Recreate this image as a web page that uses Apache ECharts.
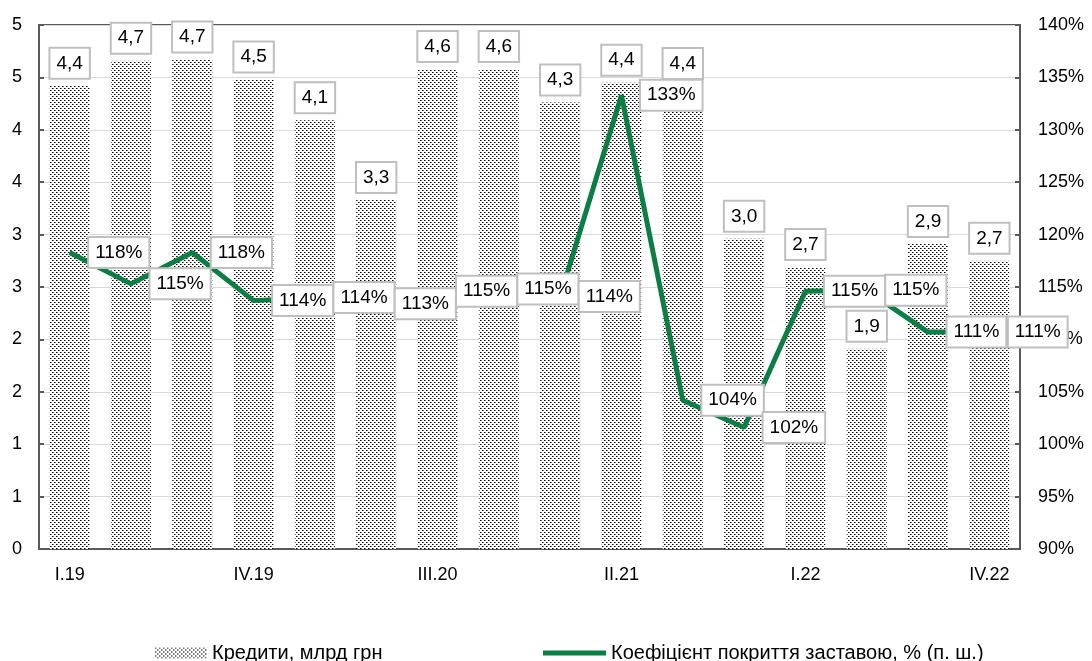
<!DOCTYPE html>
<html>
<head>
    <meta charset="utf-8">
    <title>Кредити та коефіцієнт покриття заставою</title>
    <script src="https://cdn.jsdelivr.net/npm/echarts@6/dist/echarts.min.js"></script>
    <style>html, body { margin: 0; padding: 0; background: #fff; }</style>
</head>
<body>
    <div id="main" style="width: 1092px;height:661px;"></div>
    <script type="text/javascript">
        // квартали
        var quarters = ['I.19', 'II.19', 'III.19', 'IV.19', 'I.20', 'II.20', 'III.20', 'IV.20',
                        'I.21', 'II.21', 'III.21', 'IV.21', 'I.22', 'II.22', 'III.22', 'IV.22'];
        // кредити, млрд грн (висота стовпчиків)
        var credits = [4.42, 4.66, 4.67, 4.48, 4.09, 3.33, 4.58, 4.58, 4.26, 4.45, 4.19, 2.96, 2.69, 1.91, 2.91, 2.75];
        // підписи стовпчиків, як на графіку
        var creditLabels = ['4,4', '4,7', '4,7', '4,5', '4,1', '3,3', '4,6', '4,6',
                            '4,3', '4,4', '4,4', '3,0', '2,7', '1,9', '2,9', '2,7'];
        // коефіцієнт покриття заставою, %
        var coverage = [118.3, 115.3, 118.3, 113.7, 114.0, 113.4, 114.6, 114.8,
                        114.1, 133.3, 104.2, 101.6, 114.6, 114.7, 110.7, 110.7];

        var barName = 'Кредити, млрд грн';
        var lineName = 'Коефіцієнт покриття заставою, % (п. ш.)';
        var font = '"Liberation Sans", Arial, sans-serif';
        var green = '#0b7f43';
        var axisGrey = '#595959';

        // точковий візерунок для стовпчиків
        var pat = document.createElement('canvas');
        pat.width = 4; pat.height = 4;
        var ctx = pat.getContext('2d');
        ctx.fillStyle = '#fff';
        ctx.fillRect(0, 0, 4, 4);
        ctx.fillStyle = '#000';
        ctx.fillRect(0, 0, 1, 1);
        ctx.fillRect(2, 2, 1, 1);
        ctx.fillStyle = '#777';
        ctx.fillRect(1, 0, 1, 1);
        ctx.fillRect(3, 2, 1, 1);

        var boxLabel = {
            backgroundColor: '#fff',
            borderColor: '#bfbfbf',
            borderWidth: 2,
            padding: [5, 6],
            color: '#000',
            fontSize: 19,
            fontFamily: font
        };

        var barData = credits.map(function (v, i) {
            // підпис над III.21 піднято, щоб не перекривав 133%
            if (i === 10) return { value: v, label: { offset: [0, -24] } };
            return v;
        });

        var myChart = echarts.init(document.getElementById('main'));
        myChart.setOption({
            animation: false,
            textStyle: { fontFamily: font },
            grid: {
                left: 39, right: 72, top: 25, bottom: 112,
                show: true, borderColor: axisGrey, borderWidth: 2
            },
            legend: [{
                data: [barName],
                left: 150, top: 638,
                icon: 'rect', itemWidth: 52, itemHeight: 11,
                textStyle: { fontSize: 20, color: '#000', fontFamily: font }
            }, {
                data: [lineName],
                left: 538, top: 638,
                icon: 'rect', itemWidth: 63, itemHeight: 5,
                itemStyle: { color: green },
                textStyle: { fontSize: 20, color: '#000', fontFamily: font }
            }],
            xAxis: {
                type: 'category',
                data: quarters,
                axisLine: { lineStyle: { color: axisGrey, width: 2 } },
                axisTick: { inside: true, length: 5, interval: 0, lineStyle: { color: axisGrey, width: 2 } },
                axisLabel: { interval: 2, color: '#000', fontSize: 18, margin: 17 }
            },
            yAxis: [{
                type: 'value',
                min: 0, max: 5, interval: 0.5,
                axisLine: { show: true, lineStyle: { color: axisGrey, width: 2 } },
                axisTick: { show: true, inside: true, length: 5, lineStyle: { color: axisGrey, width: 2 } },
                splitLine: { lineStyle: { color: '#d9d9d9', width: 1 } },
                axisLabel: {
                    color: '#000', fontSize: 18, margin: 17,
                    formatter: function (v) { return Math.round(v); }
                }
            }, {
                type: 'value',
                position: 'right',
                min: 90, max: 140, interval: 5,
                axisLine: { show: true, lineStyle: { color: axisGrey, width: 2 } },
                axisTick: { show: true, inside: true, length: 5, lineStyle: { color: axisGrey, width: 2 } },
                splitLine: { show: false },
                axisLabel: {
                    color: '#000', fontSize: 18, margin: 18,
                    formatter: function (v) { return v + '%'; }
                }
            }],
            series: [{
                name: barName,
                type: 'bar',
                data: barData,
                barWidth: 40,
                itemStyle: { color: { image: pat, repeat: 'repeat' } },
                label: Object.assign({
                    show: true,
                    position: 'top',
                    distance: 8,
                    formatter: function (p) { return creditLabels[p.dataIndex]; }
                }, boxLabel)
            }, {
                name: lineName,
                type: 'line',
                yAxisIndex: 1,
                data: coverage,
                symbol: 'circle',
                symbolSize: 1,
                showSymbol: true,
                lineStyle: { color: green, width: 5 },
                itemStyle: { color: green },
                z: 5,
                label: Object.assign({
                    show: true,
                    position: 'right',
                    distance: 19,
                    formatter: function (p) { return Math.round(p.value) + '%'; }
                }, boxLabel)
            }]
        });
    </script>
</body>
</html>
